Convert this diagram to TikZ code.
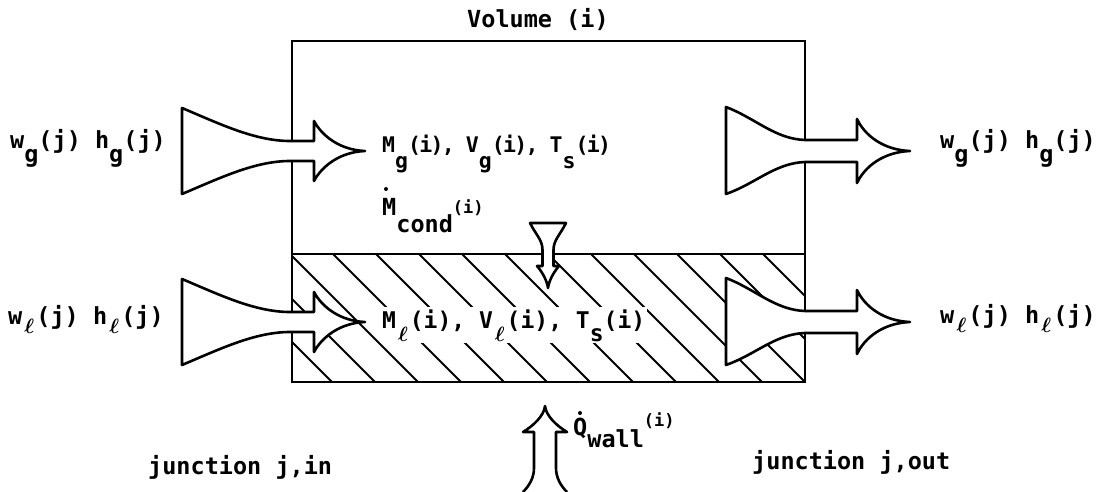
\documentclass[tikz,border=0pt]{standalone}
\usepackage{fontspec}
\usepackage{amsmath,bm}
\newfontfamily\tw{DejaVu Sans Mono}
\newfontfamily\twt[LetterSpace=-8]{DejaVu Sans Mono}
\newcommand\dsub[2][14pt]{\raisebox{-#1}{#2}}
\newcommand\lsub[1][9pt]{\raisebox{-#1}{\makebox[0.6em]{\fontsize{21}{21}\selectfont$\boldsymbol{\ell}$}}}
\newcommand\smallsup[2][2pt]{\raisebox{#1}{\fontsize{17}{17}\selectfont #2}}
\tikzset{
  box/.style={line width=2.8pt},
  flow/.style={draw, fill=white, line width=2.6pt, line join=round},
  hatchline/.style={line width=1.8pt},
  dotmark/.style={fill=black},
  lbl/.style={inner sep=0pt, font=\tw\bfseries\fontsize{23.5}{28}\selectfont},
  gasin/.style={inner sep=0pt, font=\twt\bfseries\fontsize{21.5}{25}\selectfont},
  liqin/.style={inner sep=2pt, fill=white, font=\tw\bfseries\fontsize{23}{26}\selectfont},
  inarrow/.pic={\path[flow] (0,-43) .. controls (38,-27) and (73,-10) .. (108,-10) -- (132,-10) -- (132,-30)
      .. controls (140,-15) and (158,-1) .. (183,0) .. controls (158,1) and (140,15) .. (132,30)
      -- (132,10) -- (108,10) .. controls (73,10) and (38,27) .. (0,43) -- cycle;},
  outarrow/.pic={\path[flow] (0,-44) .. controls (29,-33) and (49,-12) .. (79,-11) -- (131,-11) -- (131,-32)
      .. controls (139,-15) and (158,-1) .. (184,0) .. controls (158,1) and (139,15) .. (131,32)
      -- (131,11) -- (79,11) .. controls (49,12) and (29,33) .. (0,43) -- cycle;},
  condarrow/.pic={\path[flow] (-18,0) -- (18,0) .. controls (12,12) and (5.5,17) .. (5.5,27) -- (5.5,43) -- (11,43)
      .. controls (5,50) and (1,58) .. (0,65) .. controls (-1,58) and (-5,50) .. (-11,43) -- (-5.5,43) -- (-5.5,27)
      .. controls (-5.5,17) and (-12,12) .. cycle;},
  qarrow/.pic={\path[flow] (-22,86) .. controls (-16,80) and (-11,72) .. (-11,62) -- (-11,26) -- (-22,26)
      .. controls (-12,20) and (-1,10) .. (0,0) .. controls (1,10) and (12,20) .. (22,26) -- (11,26) -- (11,62)
      .. controls (11,72) and (16,80) .. (22,86);},
}
\begin{document}
\begin{tikzpicture}[x=1pt,y=-1pt]
\useasboundingbox (0,0) rectangle (1110,492);
% hatching of the liquid region
\begin{scope}
  \clip (292,254) rectangle (805,382);
  \foreach \k in {-4,...,13} {
    \draw[hatchline] ({36+43*\k+200},200) -- ({36+43*\k+420},420);
  }
\end{scope}
% volume box and interface
\draw[box] (292,41) rectangle (805,382);
\draw[box] (292,254) -- (805,254);
% flow arrows
\pic at (182,151) {inarrow};
\pic at (182,322) {inarrow};
\pic at (726,151) {outarrow};
\pic at (726,322) {outarrow};
\pic at (548,223) {condarrow};
\pic at (545,406) {qarrow};
% labels
\node[lbl, anchor=base west] (vol) at (467,28) {Volume (i)};
\node[lbl, anchor=base west] (wgin) at (10,148) {w\dsub{g}(j) h\dsub{g}(j)};
\node[lbl, anchor=base west] (wgout) at (940,148) {w\dsub{g}(j) h\dsub{g}(j)};
\node[lbl, anchor=base west] (wlin) at (8,324) {w\lsub(j) h\lsub(j)};
\node[lbl, anchor=base west] (wlout) at (940,323) {w\lsub(j) h\lsub(j)};
\node[gasin, anchor=base west] (gas) at (382,152) {M\dsub[16pt]{g}(i), V\dsub[16pt]{g}(i), T\dsub[16pt]{s}(i)};
\node[lbl, anchor=base west] (cond) at (382,215) {M\dsub[17pt]{cond}\smallsup{(i)}};
\node[liqin, anchor=base west] (liq) at (380,328) {M\lsub[13pt](i), V\lsub[13pt](i), T\dsub[13pt]{s}(i)};
\node[lbl, anchor=base west] (qw) at (573,435) {Q\dsub[12pt]{wall}\smallsup[9pt]{(i)}};
\node[lbl, anchor=base west] (jin) at (148,474) {junction j,in};
\node[lbl, anchor=base west] (jout) at (752,469) {junction j,out};
% time-derivative dots
\fill[dotmark] ([xshift=4pt,yshift=26pt]cond.base west) circle (2pt);
\fill[dotmark] ([xshift=7pt,yshift=22pt]qw.base west) circle (2pt);
\end{tikzpicture}
\end{document}
